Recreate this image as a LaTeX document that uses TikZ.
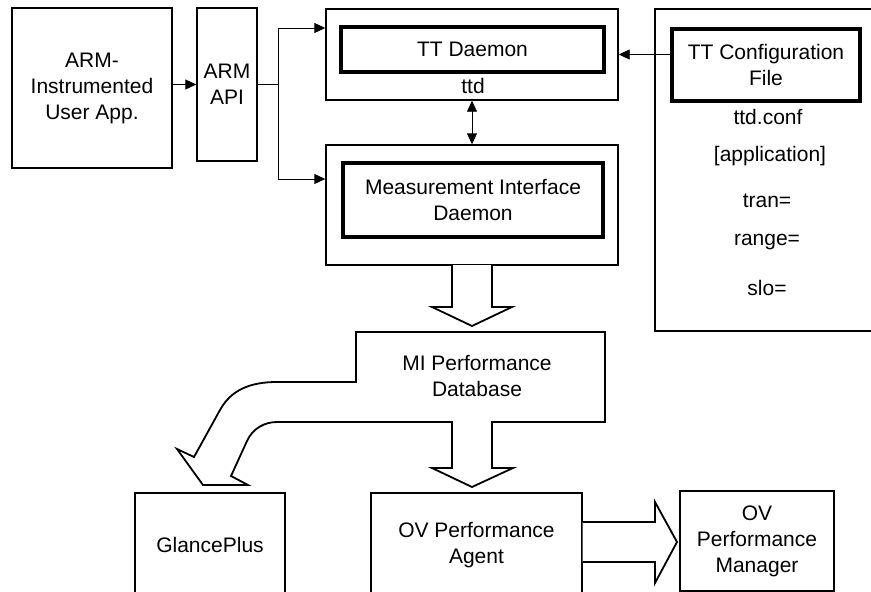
\documentclass[tikz,border=0pt]{standalone}
\usepackage{fontspec}
\setmainfont{Liberation Sans}
\usetikzlibrary{arrows.meta}

\begin{document}
\begin{tikzpicture}[x=1pt,y=-1pt,
	>={Triangle[length=11pt,width=10pt]},
	txt/.style={inner sep=0pt,align=center,font=\fontsize{21}{26}\selectfont},
	box/.style={txt,draw,line width=1.4pt},
	thickbox/.style={box,line width=4.5pt},
	conn/.style={line width=0.9pt,->},
	fat/.style={draw,line width=1.8pt,fill=white,line join=miter}]

	\useasboundingbox (0,0) rectangle (871,592);
	\clip (0,0) rectangle (871,592);

	% top row
	\node[box,minimum width=160pt,minimum height=160pt] (app) at (92,88) {ARM-\\Instrumented\\User App.};
	\node[box,minimum width=60pt,minimum height=153pt] (api) at (227,84.5) {ARM\\API};
	\node[box,minimum width=292pt,minimum height=91pt] (ttdout) at (472,54.5) {};
	\node[thickbox,minimum width=263pt,minimum height=45pt] (ttdin) at (472.5,49.5) {TT Daemon};
	\node[txt] (ttdname) at (473,86) {ttd};
	\node[box,minimum width=292pt,minimum height=120pt] (miout) at (472,205) {};
	\node[thickbox,minimum width=260pt,minimum height=74pt] (miin) at (473,200) {Measurement Interface\\Daemon};

	% configuration file
	\draw[line width=1.4pt] (880,9) -- (655,9) -- (655,331) -- (880,331);
	\node[thickbox,minimum width=188pt,minimum height=72pt] (cfgin) at (766,65) {TT Configuration\\File};
	\node[txt] (cfgname) at (768,117) {ttd.conf};
	\node[txt] (cfgapp) at (770,156) {[application]};
	\node[txt] (cfgtran) at (767,201) {tran=};
	\node[txt] (cfgrange) at (767,242) {range=};
	\node[txt] (cfgslo) at (767,288) {slo=};

	\coordinate (split) at (278,84.5);
	\draw[conn] (app.east |- api.west) -- (api.west);
	\draw[line width=0.9pt] (api.east) -- (split);
	\draw[conn] (split) |- ([yshift=26.5pt]ttdout.west);
	\draw[conn] (split) |- ([yshift=26pt]miout.west);
	\draw[conn,<->] (ttdout.south) -- (miout.north);
	\draw[conn] (cfgin.west |- ttdout.east) -- (ttdout.east);

	% fat arrows
	\draw[fat] (452,265) -- (452,307) -- (432,307) -- (472,326) -- (512,307) -- (492,307) -- (492,265);
	\draw[fat] (356,332) -- (605,332) -- (605,422) -- (492,422) -- (492,468) -- (513,468) -- (472,487)
		-- (432,468) -- (452,468) -- (452,422) -- (277,422) .. controls (265,422) and (253,428) .. (247,441)
		-- (231,476) -- (248,485) -- (203,485) -- (177,449) -- (194,457) -- (220,410)
		.. controls (231,390) and (250,382) .. (277,382) -- (356,382) -- cycle;
	\node[txt] (db) at (477,376) {MI Performance\\Database};

	% bottom row
	\node[box,minimum width=150pt,minimum height=104pt] (glance) at (210,545) {GlancePlus};
	\node[box,minimum width=211pt,minimum height=104pt] (agent) at (476.5,545) {OV Performance\\Agent};
	\node[box,minimum width=154pt,minimum height=100pt] (manager) at (757,541) {OV\\Performance\\Manager};
	\draw[fat] (agent.east |- 0,522) -- (655,522) -- (655,502) -- (677,542) -- (655,583) -- (655,562) -- (agent.east |- 0,562);

\end{tikzpicture}
\end{document}
